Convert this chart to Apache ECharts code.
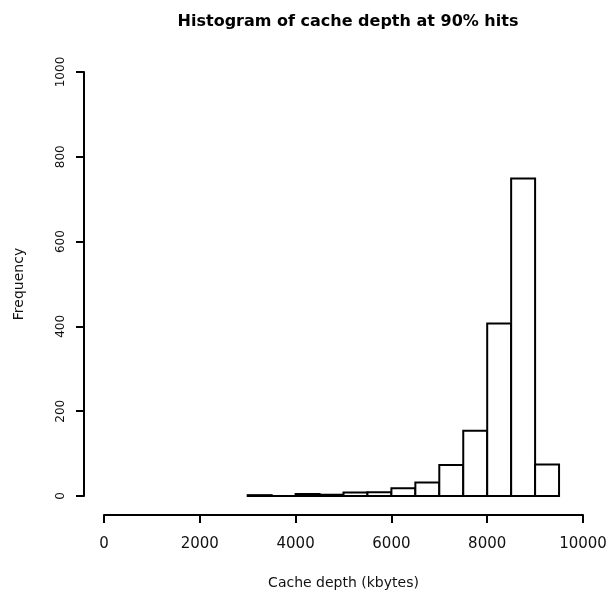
<!DOCTYPE html>
<html>
<head>
<meta charset="utf-8">
<script src="https://cdn.jsdelivr.net/npm/echarts@6/dist/echarts.min.js"></script>
<style>
  html, body { margin: 0; padding: 0; background: #fff; }
  #chart { width: 607px; height: 596px; }
</style>
</head>
<body>
<div id="chart"></div>
<script>
  // histogram bins (kbytes), width 500
  var binStart = [3000, 3500, 4000, 4500, 5000, 5500, 6000, 6500, 7000, 7500, 8000, 8500, 9000];
  var binEnd   = [3500, 4000, 4500, 5000, 5500, 6000, 6500, 7000, 7500, 8000, 8500, 9000, 9500];
  var counts   = [2, 0, 5, 3, 8, 9, 18, 32, 73, 154, 407, 749, 74];

  var xTicks = [0, 2000, 4000, 6000, 8000, 10000];
  var yTicks = [0, 200, 400, 600, 800, 1000];

  var font = '"DejaVu Sans", sans-serif';
  var font2 = '"Liberation Sans", Arial, sans-serif';

  var data = [];
  for (var i = 0; i < counts.length; i++) {
    data.push([binStart[i], binEnd[i], counts[i]]);
  }

  var myChart = echarts.init(document.getElementById('chart'));
  var option = {
    backgroundColor: '#fff',
    animation: false,
    title: {
      text: 'Histogram of cache depth at 90% hits',
      left: 343,
      top: 9,
      textAlign: 'center',
      textStyle: { fontFamily: font, fontWeight: 'bold', fontSize: 16, color: '#000' }
    },
    grid: { left: 104, right: 24, top: 72, bottom: 100, outerBoundsMode: 'none', containLabel: false },
    xAxis: {
      type: 'value',
      min: xTicks[0],
      max: xTicks[xTicks.length - 1],
      interval: 2000,
      offset: 19,
      name: 'Cache depth (kbytes)',
      nameLocation: 'middle',
      nameGap: 61,
      nameTextStyle: { fontFamily: font, fontSize: 14, color: '#111' },
      axisLine: { show: true, onZero: false, lineStyle: { color: '#000', width: 2 } },
      axisTick: { show: true, length: 8, lineStyle: { color: '#000', width: 2 } },
      axisLabel: {
        margin: 22, fontFamily: font, fontSize: 15, color: '#111',
        showMaxLabel: true, showMinLabel: true,
        formatter: function (v) { return String(v); }
      },
      splitLine: { show: false }
    },
    yAxis: {
      type: 'value',
      min: yTicks[0],
      max: yTicks[yTicks.length - 1],
      interval: 200,
      offset: 20,
      name: 'Frequency',
      nameLocation: 'middle',
      nameGap: 58,
      nameTextStyle: { fontFamily: font, fontSize: 14, color: '#111' },
      axisLine: { show: true, onZero: false, lineStyle: { color: '#000', width: 2 } },
      axisTick: { show: true, length: 8, lineStyle: { color: '#000', width: 2 } },
      axisLabel: {
        rotate: 90, margin: 17, fontFamily: font, fontSize: 12, color: '#111',
        formatter: function (v) { return String(v); }
      },
      splitLine: { show: false }
    },
    series: [{
      type: 'custom',
      encode: { x: [0, 1], y: 2 },
      data: data,
      renderItem: function (params, api) {
        var p0 = api.coord([api.value(0), api.value(2)]);
        var p1 = api.coord([api.value(1), 0]);
        return {
          type: 'rect',
          shape: { x: p0[0], y: p0[1], width: p1[0] - p0[0], height: p1[1] - p0[1] },
          style: { fill: '#fff', stroke: '#000', lineWidth: 2 }
        };
      }
    }]
  };
  myChart.setOption(option);
</script>
</body>
</html>
